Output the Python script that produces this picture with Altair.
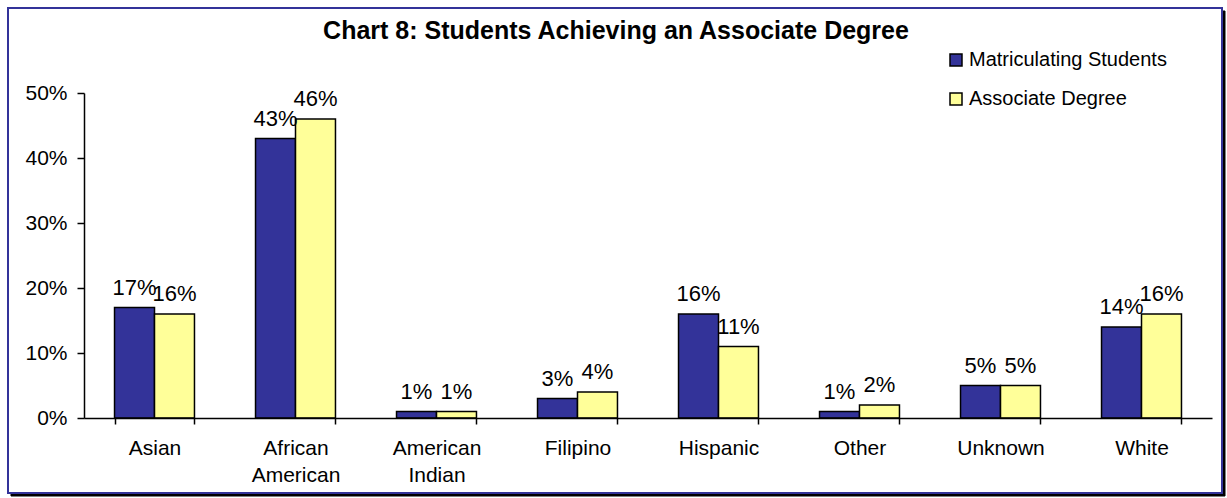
import altair as alt
import pandas as pd

categories = ["Asian", "African American", "American Indian", "Filipino",
              "Hispanic", "Other", "Unknown", "White"]
matriculating = [17, 43, 1, 3, 16, 1, 5, 14]
associate = [16, 46, 1, 4, 11, 2, 5, 16]
series_names = ["Matriculating Students", "Associate Degree"]
series_colors = ["#333399", "#FFFF99"]
y_ticks = [0, 10, 20, 30, 40, 50]
title_text = "Chart 8: Students Achieving an Associate Degree"

rows = []
for c, m, a in zip(categories, matriculating, associate):
    rows.append({"cat": c, "series": series_names[0], "val": m})
    rows.append({"cat": c, "series": series_names[1], "val": a})
df = pd.DataFrame(rows)

FONT = "Liberation Sans"

xscale = alt.Scale(domain=categories, paddingInner=0.433, paddingOuter=0.2165)
yscale = alt.Scale(domain=[0, 50], nice=False)
cscale = alt.Scale(domain=series_names, range=series_colors)

base = alt.Chart(df)

shadow = alt.Chart(pd.DataFrame({"a": [0]})).mark_rect(
    fill="black", stroke="black", strokeWidth=1
).encode(x=alt.value(-73), x2=alt.value(1141), y=alt.value(-82), y2=alt.value(403))

frame = alt.Chart(pd.DataFrame({"a": [0]})).mark_rect(
    fill="white", stroke="#333399", strokeWidth=2
).encode(x=alt.value(-76), x2=alt.value(1138), y=alt.value(-85), y2=alt.value(400))

title = alt.Chart(pd.DataFrame({"t": [title_text]})).mark_text(
    font=FONT, fontSize=25, fontWeight="bold", align="center", baseline="middle", color="black"
).encode(text="t:N", x=alt.value(532), y=alt.value(-62))

bars = base.mark_bar(stroke="black", strokeWidth=1.5).encode(
    x=alt.X("cat:N", scale=xscale, sort=categories, title=None,
            axis=alt.Axis(labelExpr="split(datum.label, ' ')", labelAngle=0,
                          tickBand="extent", tickSize=6, labelPadding=13,
                          labelLineHeight=27, labelFontSize=21, labelFont=FONT,
                          labelColor="black", domainColor="black", tickColor="black",
                          domainWidth=1.5, tickWidth=1.5, grid=False, zindex=2)),
    xOffset=alt.XOffset("series:N", sort=series_names, scale=alt.Scale(domain=series_names, paddingInner=0, paddingOuter=0)),
    y=alt.Y("val:Q", scale=yscale, title=None,
            axis=alt.Axis(values=y_ticks, labelExpr="datum.value + '%'", tickSize=7,
                          labelPadding=10, labelFontSize=21, labelFont=FONT,
                          labelColor="black", domainColor="black", tickColor="black",
                          domainWidth=1.5, tickWidth=1.5, grid=False, zindex=2)),
    color=alt.Color("series:N", scale=cscale, sort=series_names, title=None,
                    legend=alt.Legend(orient="none", legendX=862, legendY=-43,
                                      symbolType="square", symbolSize=144,
                                      symbolStrokeColor="black", symbolStrokeWidth=1.5,
                                      symbolOpacity=1, labelFontSize=20, labelFont=FONT,
                                      labelColor="black", rowPadding=19, labelOffset=3,
                                      labelLimit=400, padding=0, zindex=2)),
)

labels = base.mark_text(font=FONT, fontSize=22, baseline="bottom", dy=-8, color="black").encode(
    x=alt.X("cat:N", scale=xscale, sort=categories),
    xOffset=alt.XOffset("series:N", sort=series_names),
    y=alt.Y("val:Q", scale=yscale),
    text=alt.Text("label:N"),
).transform_calculate(label="datum.val + '%'")

chart = alt.layer(shadow, frame, title, bars, labels).properties(
    width=1128, height=325,
    autosize=alt.AutoSizeParams(type="none"),
    padding={"left": 84, "top": 93, "right": 15, "bottom": 80},
    background="white",
).configure_view(stroke=None)

chart.save("out.html", embed_options={"renderer": "svg", "actions": False})
